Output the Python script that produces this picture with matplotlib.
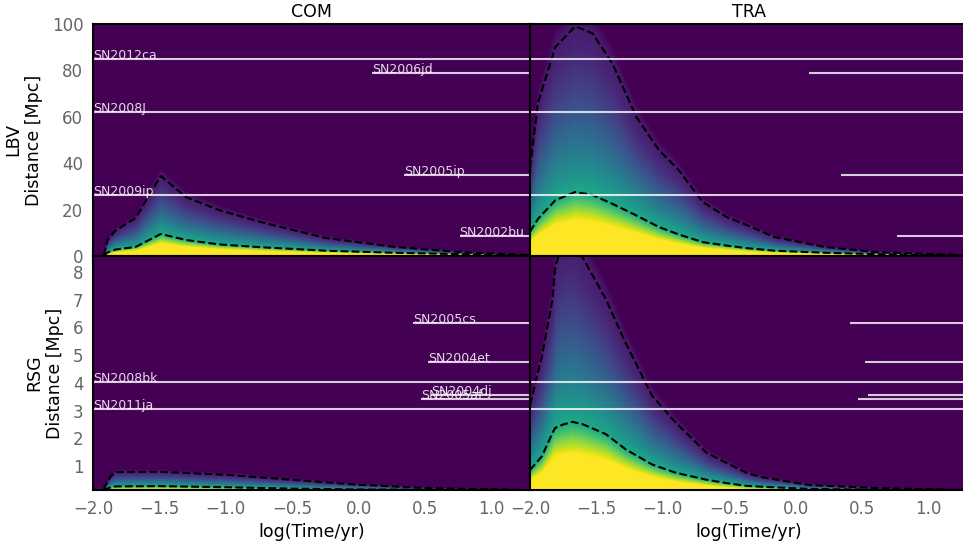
import numpy as np
import matplotlib
matplotlib.use("Agg")
import matplotlib.pyplot as plt

# ── contour readings (log t, distance in Mpc) ────────────────────
com_lbv_t     = [-2.0, -1.92, -1.89, -1.83, -1.68, -1.49, -1.30, -1.05, -0.74, -0.25, 0.26, 0.76, 1.28]
com_lbv_outer = [0.0, 0.0, 7.0, 11.0, 16.4, 34.5, 25.4, 19.8, 14.7, 7.8, 4.0, 1.7, 0.4]
com_lbv_inner = [0.0, 0.0, 1.5, 2.8, 3.9, 9.5, 6.9, 5.0, 3.8, 2.3, 1.4, 0.8, 0.3]

tra_lbv_t     = [-2.0, -1.94, -1.81, -1.66, -1.53, -1.38, -1.2, -1.03, -0.88, -0.70, -0.52, -0.37,
                 -0.16, 0.22, 0.6, 0.98, 1.28]
tra_lbv_outer = [38, 66, 90, 99, 96, 83, 60, 45.7, 37, 23.3, 16.8, 13.4, 8.2, 3.9, 1.7, 0.9, 0.3]
tra_lbv_inner = [10.5, 16, 24, 27.6, 26.3, 22.5, 17.5, 12.5, 9.3, 6.0, 4.5, 3.4, 2.3, 1.4, 0.8, 0.4, 0.2]

com_rsg_t     = [-2.0, -1.92, -1.87, -1.83, -1.5, -1.0, -0.5, 0.0, 0.51, 1.28]
com_rsg_outer = [0.0, 0.17, 0.6, 0.78, 0.79, 0.68, 0.5, 0.32, 0.2, 0.13]
com_rsg_inner = [0.0, 0.14, 0.22, 0.26, 0.27, 0.23, 0.18, 0.15, 0.14, 0.13]

tra_rsg_t     = [-2.0, -1.91, -1.83, -1.81, -1.76, -1.68, -1.6, -1.43, -1.28, -1.08, -0.9, -0.67,
                 -0.52, -0.37, -0.26, 0.1, 0.6, 1.28]
tra_rsg_outer = [3.2, 4.97, 7.03, 8.22, 8.9, 9.1, 8.5, 7.03, 5.44, 3.53, 2.55, 1.47, 1.11, 0.75,
                 0.6, 0.31, 0.2, 0.13]
tra_rsg_inner = [0.85, 1.35, 2.2, 2.37, 2.48, 2.59, 2.5, 2.15, 1.6, 1.05, 0.75, 0.5, 0.38, 0.28,
                 0.25, 0.17, 0.14, 0.13]

# ── observed SNe: name, distance, earliest log t ─────────────────
lbv_names  = ["SN2012ca", "SN2006jd", "SN2008J", "SN2005ip", "SN2009ip", "SN2002bu"]
lbv_dist   = [85.0, 78.7, 62.0, 35.0, 26.3, 8.6]
lbv_tstart = [-2.0, 0.10, -2.0, 0.345, -2.0, 0.76]

rsg_names  = ["SN2005cs", "SN2004et", "SN2008bk", "SN2005af", "SN2004dj", "SN2011ja"]
rsg_dist   = [6.17, 4.77, 4.04, 3.42, 3.56, 3.06]
rsg_tstart = [0.41, 0.52, -2.0, 0.47, 0.545, -2.0]

XMIN, XMAX = -2.0, 1.29
LBV_YLIM = (0, 100)
RSG_YLIM = (0.13, 8.58)


def density(t_pts, outer_pts, inner_pts, tg, dg):
    outer = np.interp(tg, t_pts, outer_pts)[None, :]
    inner = np.interp(tg, t_pts, inner_pts)[None, :]
    D = dg[:, None]
    inn = np.maximum(inner, 1e-6)
    out = np.maximum(outer, inn * 1.01)
    r = np.clip((D - inn) / (out - inn), 0, 1)
    v_in = 0.6 + 0.91 * (1 - D / inn)
    v_mid = 0.08 + 0.52 * (1 - r) ** 1.5
    v_out = np.clip(0.08 * (1 - (D - out) / (0.1 * out)), 0, None)
    V = np.where(D <= inn, v_in, np.where(D <= out, v_mid, v_out))
    V = np.where(outer <= 0, 0.0, V)
    return V


def panel(ax, t_pts, outer_pts, inner_pts, ylim, img_xmax):
    tg = np.linspace(XMIN, img_xmax, 700)
    dg = np.linspace(0, ylim[1], 500)
    V = density(t_pts, outer_pts, inner_pts, tg, dg)
    ax.imshow(V, origin="lower", aspect="auto", cmap="viridis", vmin=0, vmax=1,
              extent=(XMIN, img_xmax, 0, ylim[1]), interpolation="bilinear")
    ax.plot(t_pts, outer_pts, "k--", lw=1.5)
    ax.plot(t_pts, inner_pts, "k--", lw=1.5)
    ax.set_xlim(XMIN, XMAX)
    ax.set_ylim(*ylim)
    for s in ax.spines.values():
        s.set_linewidth(1.5)
    ax.tick_params(length=0, labelsize=12, labelcolor="0.4", pad=7)


def sne(ax, names, dist, tstart, labels):
    for name, d, t0 in zip(names, dist, tstart):
        ax.hlines(d, t0, XMAX, color="w", alpha=0.8, lw=1.5)
        if labels:
            ax.text(t0, d, name, color="w", alpha=0.85, fontsize=9,
                    ha="left", va="baseline")


fig = plt.figure(figsize=(9.63, 5.48), dpi=100)
W, H = 963, 548
wpx = 437
ax_tl = fig.add_axes([93 / W, (H - 256) / H, wpx / W, 232 / H])
ax_tr = fig.add_axes([530 / W, (H - 256) / H, wpx / W, 232 / H])
ax_bl = fig.add_axes([93 / W, (H - 490) / H, wpx / W, 234 / H])
ax_br = fig.add_axes([530 / W, (H - 490) / H, wpx / W, 234 / H])

panel(ax_tl, com_lbv_t, com_lbv_outer, com_lbv_inner, LBV_YLIM, 1.275)
panel(ax_tr, tra_lbv_t, tra_lbv_outer, tra_lbv_inner, LBV_YLIM, XMAX)
panel(ax_bl, com_rsg_t, com_rsg_outer, com_rsg_inner, RSG_YLIM, 1.275)
panel(ax_br, tra_rsg_t, tra_rsg_outer, tra_rsg_inner, RSG_YLIM, XMAX)

sne(ax_tl, lbv_names, lbv_dist, lbv_tstart, True)
sne(ax_tr, lbv_names, lbv_dist, lbv_tstart, False)
sne(ax_bl, rsg_names, rsg_dist, rsg_tstart, True)
sne(ax_br, rsg_names, rsg_dist, rsg_tstart, False)

ax_tl.set_yticks([0, 20, 40, 60, 80, 100])
ax_bl.set_yticks([1, 2, 3, 4, 5, 6, 7, 8])
for ax in (ax_tl, ax_tr):
    ax.set_xticklabels([])
for ax in (ax_tr, ax_br):
    ax.set_yticklabels([])
xt = [-2.0, -1.5, -1.0, -0.5, 0.0, 0.5, 1.0]
for ax in (ax_tl, ax_tr, ax_bl, ax_br):
    ax.set_xticks(xt)
ax_tr.set_yticks([0, 20, 40, 60, 80, 100])
ax_tr.set_yticklabels([])
ax_br.set_yticks([1, 2, 3, 4, 5, 6, 7, 8])
ax_br.set_yticklabels([])

ax_tl.set_title("COM", fontsize=12.5, pad=5)
ax_tr.set_title("TRA", fontsize=12.5, pad=5)
ax_tl.set_ylabel("LBV\nDistance [Mpc]", fontsize=12.5, labelpad=6)
ax_bl.set_ylabel("RSG\nDistance [Mpc]", fontsize=12.5, labelpad=6)
ax_bl.set_xlabel("log(Time/yr)", fontsize=12.5, labelpad=4)
ax_br.set_xlabel("log(Time/yr)", fontsize=12.5, labelpad=4)

fig.savefig("out.png", dpi=100)
plt.close(fig)
